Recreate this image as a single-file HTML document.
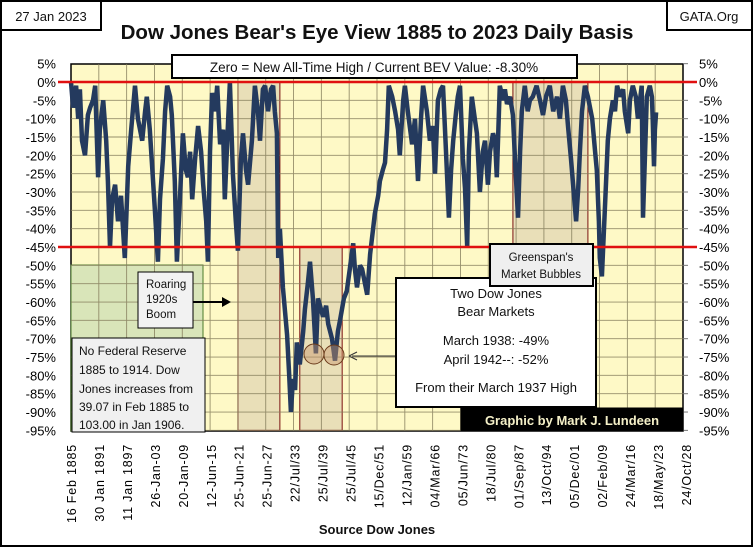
<!DOCTYPE html>
<html><head><meta charset="utf-8">
<style>
html,body{margin:0;padding:0;background:#fff;}
svg{display:block;font-family:"Liberation Sans",sans-serif;}
</style></head>
<body>
<svg id="chart" width="753" height="547" viewBox="0 0 753 547" xmlns="http://www.w3.org/2000/svg">
<rect x="1" y="1" width="751" height="545" fill="#fff" stroke="#000" stroke-width="2"/>
<g id="plot"></g>
<g id="overlay"></g>
</svg>
<script>
const xTickLabels = ["16 Feb 1885","30 Jan 1891","11 Jan 1897","26-Jan-03","20-Jan-09","12-Jun-15","25-Jun-21","25-Jun-27","22/Jul/33","25/Jul/39","25/Jul/45","15/Dec/51","12/Jan/59","04/Mar/66","05/Jun/73","18/Jul/80","01/Sep/87","13/Oct/94","05/Dec/01","02/Feb/09","24/Mar/16","18/May/23","24/Oct/28"];
const yTicks = [5,0,-5,-10,-15,-20,-25,-30,-35,-40,-45,-50,-55,-60,-65,-70,-75,-80,-85,-90,-95];
const years = [1885.0,1885.5,1886.2,1886.7,1887.1,1887.6,1888.3,1889.0,1889.5,1890.2,1890.7,1891.4,1891.8,1892.6,1893.3,1893.7,1894.2,1894.7,1895.4,1896.1,1896.8,1897.7,1898.5,1899.2,1900.1,1900.8,1901.8,1902.5,1902.9,1903.6,1904.1,1904.8,1905.5,1906.0,1906.7,1907.2,1907.7,1908.4,1908.8,1909.5,1910.0,1910.7,1911.4,1912.1,1912.6,1913.1,1913.6,1914.3,1915.0,1915.7,1916.2,1916.9,1917.3,1917.8,1918.3,1919.0,1919.5,1920.2,1920.9,1921.3,1922.1,1922.5,1923.2,1923.9,1924.4,1925.1,1925.6,1926.3,1926.8,1927.7,1928.4,1929.1,1929.6,1930.3,1930.8,1931.5,1932.2,1932.7,1933.1,1933.6,1933.9,1934.3,1935.0,1936.0,1936.5,1936.9,1937.4,1937.9,1938.3,1939.0,1939.8,1940.2,1940.9,1941.4,1942.1,1942.8,1943.3,1944.0,1944.5,1945.2,1945.7,1946.6,1947.3,1948.0,1948.5,1949.4,1950.1,1950.8,1951.6,1952.0,1952.5,1953.2,1953.7,1954.4,1954.9,1955.6,1956.3,1956.7,1957.5,1957.9,1958.6,1959.1,1959.6,1960.0,1960.8,1961.5,1962.2,1962.6,1963.4,1963.8,1964.5,1965.5,1966.2,1966.9,1967.6,1968.1,1969.0,1969.7,1970.4,1970.9,1971.6,1972.3,1972.8,1973.5,1974.2,1974.7,1975.2,1975.9,1976.3,1976.8,1977.5,1978.0,1978.5,1978.9,1979.6,1980.3,1980.8,1981.5,1982.2,1982.7,1983.4,1983.9,1984.6,1985.1,1985.5,1986.2,1987.0,1987.4,1987.9,1988.6,1989.3,1989.8,1990.5,1991.0,1991.4,1992.1,1992.8,1993.3,1994.0,1994.9,1995.7,1996.4,1997.1,1998.0,1998.8,1999.7,2000.4,2001.1,2001.8,2002.3,2003.0,2003.5,2004.2,2004.7,2005.1,2005.6,2006.3,2007.0,2008.0,2008.7,2009.1,2009.6,2009.8,2010.3,2010.8,2011.3,2011.7,2012.2,2012.9,2013.4,2013.9,2014.6,2015.3,2015.7,2016.5,2016.9,2017.6,2018.3,2018.8,2019.3,2019.7,2020.0,2020.5,2020.9,2021.6,2022.1,2022.3,2022.6,2022.8,2023.1];
const bev = [0,-7,-1,-10,-2,-16,-20,-9,-7,-5,-1,-26,-13,-5,-16,-27,-45,-32,-28,-38,-31,-48,-23,-13,-1,-10,-16,-8,-4,-13,-22,-35,-49,-32,-21,-8,-1,-4,-9,-27,-49,-32,-14,-24,-26,-19,-32,-21,-12,-19,-28,-38,-49,-19,-3,-8,-1,-17,-13,-32,-10,0,-25,-38,-46,-21,-14,-24,-28,-16,-1,-8,-16,-2,-1,-8,-2,-1,-8,-14,-48,-40,-56,-69,-80,-90,-81,-84,-71,-77,-68,-62,-55,-49,-59,-74,-59,-62,-64,-61,-66,-70,-76,-68,-65,-59,-57,-51,-44,-51,-56,-50,-51,-55,-58,-47,-40,-36,-31,-27,-24,-22,-13,-1,-4,-8,-13,-20,-5,-1,-8,-17,-10,-27,-10,-1,-8,-16,-12,-25,-5,-2,-1,-19,-37,-24,-16,-8,-4,-1,-21,-29,-45,-19,-4,-10,-14,-30,-19,-16,-28,-19,-14,-16,-26,-1,-5,-2,-6,-4,-9,-21,-37,-19,-8,-1,-8,-5,-4,-1,-5,-9,-4,-1,-8,-4,-10,-1,-5,-12,-21,-28,-38,-29,-19,-8,-1,-4,-10,-19,-24,-38,-48,-53,-40,-27,-16,-10,-5,-8,-1,-4,-2,-8,-14,-5,-1,-4,-10,-5,-1,-37,-19,-4,-1,-4,-10,-23,-13,-8.3];
const shadeStart = [1924.4, 1939.0, 1989.3];
const shadeEnd   = [1934.3, 1949.0, 2007.0];
const shadeTop   = [0, -45, 0];
const shadeBottom= [-95, -95, -45];

const NS="http://www.w3.org/2000/svg";
const L=71,R=683,T=64,B=431;
const X0=1885, PXY=4.237;
const xs = y => L + (y-X0)*PXY;
const ys = v => 82 - v*3.667;
const tickX = i => L + i*(686-L)/(xTickLabels.length-1);
function mk(tag,attrs,parent,text){const e=document.createElementNS(NS,tag);for(const k in attrs)e.setAttribute(k,attrs[k]);if(text!==undefined)e.textContent=text;parent.appendChild(e);return e;}
const plot=document.getElementById('plot');
const bg=mk('rect',{x:L,y:T,width:R-L,height:B-T,fill:'#fef9c6',stroke:'#000','stroke-width':1.5},plot);


for(let i=0;i<shadeStart.length;i++){
  const r=mk('rect',{x:xs(shadeStart[i]),y:ys(shadeTop[i]),width:xs(shadeEnd[i])-xs(shadeStart[i]),height:ys(shadeBottom[i])-ys(shadeTop[i]),fill:'#e9dfb8',stroke:'#7a1010','stroke-width':1},plot);
  
  
}
const gb=mk('rect',{x:L,y:265,width:132,height:166,fill:'#d9e5b9',stroke:'#4a7a2a','stroke-width':1},plot);


const grid=mk('g',{stroke:'#857d5c','stroke-width':0.9,opacity:0.85},plot);


for(const v of yTicks){ if(v<5) mk('line',{x1:L,x2:R,y1:ys(v),y2:ys(v)},grid); }
const nG=22;
for(let i=1;i<nG;i++){const x=L+i*(R-L)/nG;mk('line',{x1:x,x2:x,y1:T,y2:B},grid);}
const yl=mk('g',{'font-size':13,fill:'#000'},plot);


for(const v of yTicks){
  const t1=mk('text',{x:56,y:ys(v)+5,'text-anchor':'end'},yl,v+'%');
  
  
  const t2=mk('text',{x:699,y:ys(v)+5,'text-anchor':'start'},yl,v+'%');
  
  
  mk('line',{x1:R,x2:R+5,y1:ys(v),y2:ys(v),stroke:'#777'},yl);
}
const xl=mk('g',{'font-size':12.5,fill:'#000','letter-spacing':'0.8'},plot);


for(let i=0;i<xTickLabels.length;i++){
  const x=tickX(i)+5;
  const t=mk('text',{x:x,y:444,'text-anchor':'end',transform:`rotate(-90 ${x} 444)`},xl,xTickLabels[i]);
  
  
}
let d='';
for(let i=0;i<years.length;i++){d+=(i?'L':'M')+xs(years[i]).toFixed(1)+' '+ys(bev[i]).toFixed(1);}
const line=mk('path',{d:d,fill:'none',stroke:'#243a5e','stroke-width':4.5,'stroke-linejoin':'miter','stroke-miterlimit':3},plot);


for(const v of [0,-45]){
  const rl=mk('line',{x1:58,x2:697,y1:ys(v),y2:ys(v),stroke:'#e01010','stroke-width':2.5},plot);
  
  
}
</script>
<script>
(function(){
const NS="http://www.w3.org/2000/svg";
const o=document.getElementById('overlay');
function mk(tag,attrs,parent,text){const e=document.createElementNS(NS,tag);for(const k in attrs)e.setAttribute(k,attrs[k]);if(text!==undefined)e.textContent=text;parent.appendChild(e);return e;}
function box(name,x,y,w,h,fill,sw){const r=mk('rect',{x:x,y:y,width:w,height:h,fill:fill,stroke:'#000','stroke-width':sw},o);


return r;}
function txt(name,x,y,s,size,anchor,extra){const t=mk('text',Object.assign({x:x,y:y,'font-size':size,'text-anchor':anchor||'middle',fill:'#111'},extra||{}),o,s);


return t;}
for(const c of [[314,354],[334,355]]){const e=mk('circle',{cx:c[0],cy:c[1],r:10,fill:'rgba(200,150,110,0.45)',stroke:'#6a3a1a','stroke-width':1},o);

}
box('date-box',1,1,100,29,'#fff',2);
txt('date-label',51,21,'27 Jan 2023',13);
box('source-box',667,1,85,29,'#fff',2);
txt('source-label',709,21,'GATA.Org',13);
txt('chart-title',377,39,"Dow Jones Bear's Eye View 1885 to 2023 Daily Basis",20.5,'middle',{'font-weight':'bold'});
box('subtitle-box',172,55,405,23,'#fff',2);
txt('subtitle-label',374,72,'Zero = New All-Time High / Current BEV Value: -8.30%',13.5);
box('roaring-box',138,272,55,56,'#f2f2f2',1);
txt('roaring-line1',146,288,'Roaring',11.5,'start');
txt('roaring-line2',146,303,'1920s',11.5,'start');
txt('roaring-line3',146,318,'Boom',11.5,'start');
mk('line',{x1:193,y1:302,x2:226,y2:302,stroke:'#000','stroke-width':2},o);
mk('path',{d:'M231 302 L222 297 L222 307 Z',fill:'#000'},o);
box('fed-box',72,338,133,94,'#f0f0f0',1);
txt('fed-line1',79,355,'No Federal Reserve',12,'start');
txt('fed-line2',79,374,'1885 to 1914.  Dow',12,'start');
txt('fed-line3',79,393,'Jones increases from',12,'start');
txt('fed-line4',79,411,'39.07 in Feb 1885 to',12,'start');
txt('fed-line5',79,429,'103.00 in Jan 1906.',12,'start');
box('two-bears-box',396,278,200,129,'#fff',2);
txt('bears-line1',496,298,'Two Dow Jones',13);
txt('bears-line2',496,316,'Bear Markets',13);
txt('bears-line3',496,345,'March  1938:  -49%',13);
txt('bears-line4',496,364,'April 1942--:  -52%',13);
txt('bears-line5',496,392,'From their March  1937  High',13);
mk('line',{x1:395,y1:356,x2:352,y2:356,stroke:'#333','stroke-width':1},o);
mk('path',{d:'M349 356 L357 352 M349 356 L357 360',stroke:'#333',fill:'none'},o);
box('greenspan-box',490,244,103,42,'#efefef',2);
txt('greenspan-line1',541,261,"Greenspan's",11.5);
txt('greenspan-line2',541,278,'Market Bubbles',11.5);
box('credit-box',461,408,222,23,'#000',1);
txt('credit-label',572,425,'Graphic by Mark J. Lundeen',13,'middle',{'font-weight':'bold',fill:'#f5f0c8'});
txt('x-axis-title',377,534,'Source Dow Jones',13,'middle',{'font-weight':'bold'});
})();
</script>
</body></html>
